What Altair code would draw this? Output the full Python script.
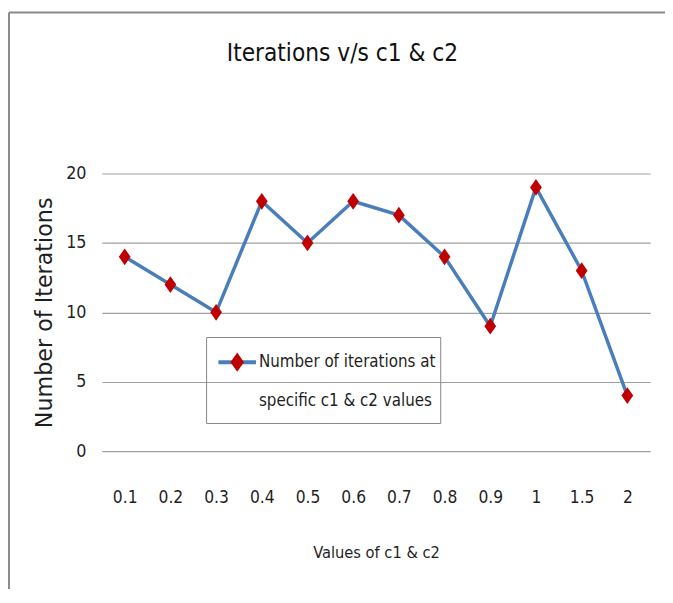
import altair as alt
import pandas as pd

categories = ["0.1", "0.2", "0.3", "0.4", "0.5", "0.6", "0.7", "0.8", "0.9", "1", "1.5", "2"]
iterations = [14, 12, 10, 18, 15, 18, 17, 14, 9, 19, 13, 4]
y_ticks = [0, 5, 10, 15, 20]
title_text = "Iterations v/s c1 & c2"
x_title = "Values of c1 & c2"
y_title = "Number of Iterations"
legend_label = "Number of iterations at\nspecific c1 & c2 values"

df = pd.DataFrame({"c": categories, "n": iterations})
legend_df = pd.DataFrame({"label": [legend_label]})

FONT = "DejaVu Sans Condensed, Liberation Sans, sans-serif"
TEXT = "#1f1f1f"
BLUE = "#4A7EBB"
RED = "#C00000"
DIAMOND = "M0,-1L0.7,0L0,1L-0.7,0Z"

x_enc = alt.X(
    "c:O", sort=categories,
    scale=alt.Scale(type="point", padding=0.5),
    axis=alt.Axis(
        title=x_title, labelAngle=0, ticks=False, domain=False, grid=False,
        labelPadding=38, labelFont=FONT, labelFontSize=17.5, labelColor=TEXT,
        titleFont=FONT, titleFontSize=16.5, titleFontWeight="normal", titleColor=TEXT,
        titleX=277.5, titleY=103, titleBaseline="middle", titleAlign="center",
    ),
)
y_enc = alt.Y(
    "n:Q",
    scale=alt.Scale(domain=[0, 20], nice=False),
    axis=alt.Axis(
        values=y_ticks, grid=True, gridColor="#a0a0a0", gridWidth=1.2,
        domain=False, ticks=False, labelPadding=16,
        labelFont=FONT, labelFontSize=18, labelColor=TEXT,
        title=y_title, titleFont="DejaVu Sans", titleFontSize=22.5,
        titleFontWeight="normal", titleColor=TEXT,
        titleX=-58, titleY=140.5, titleAngle=-90, titleAlign="center",
        titleBaseline="middle",
    ),
)

base = alt.Chart(df)
line = base.mark_line(color=BLUE, strokeWidth=3.5).encode(x=x_enc, y=y_enc)
points = base.mark_point(shape=DIAMOND, size=289, filled=True, color=RED, opacity=1).encode(
    x=x_enc, y=y_enc
)

leg = alt.Chart(legend_df)
leg_box = leg.mark_rect(fill="white", fillOpacity=0, stroke="#868686", strokeWidth=1).encode(
    x=alt.value(106), x2=alt.value(343), y=alt.value(166), y2=alt.value(253)
)
leg_line = leg.mark_rule(color=BLUE, strokeWidth=4).encode(
    x=alt.value(118), x2=alt.value(156), y=alt.value(191)
)
leg_pt = leg.mark_point(shape=DIAMOND, size=380, filled=True, color=RED, opacity=1).encode(
    x=alt.value(137), y=alt.value(191)
)
leg_text = leg.mark_text(
    align="left", baseline="middle", lineBreak="\n", lineHeight=39,
    font=FONT, fontSize=17, color=TEXT,
).encode(x=alt.value(159), y=alt.value(191), text="label:N")

border_left = leg.mark_rule(color="#8a8a8a", strokeWidth=2).encode(
    x=alt.value(-94), y=alt.value(-163), y2=alt.value(440)
)
border_top = leg.mark_rule(color="#8a8a8a", strokeWidth=2).encode(
    x=alt.value(-94), x2=alt.value(580), y=alt.value(-163)
)

chart = alt.layer(
    border_left, border_top, line, points, leg_box, leg_line, leg_pt, leg_text
).properties(
    width=555,
    height=281,
    title=alt.TitleParams(
        text=title_text, font=FONT, fontSize=24.5, fontWeight="normal", color="#111111",
        anchor="middle", dx=-34, offset=0, dy=80, baseline="bottom",
    ),
    autosize=alt.AutoSizeParams(type="none"),
    padding={"left": 95, "top": 164, "right": 15, "bottom": 136},
    background="white",
).configure_view(stroke=None)

chart.save("out.html", embed_options={"renderer": "svg", "actions": False})
